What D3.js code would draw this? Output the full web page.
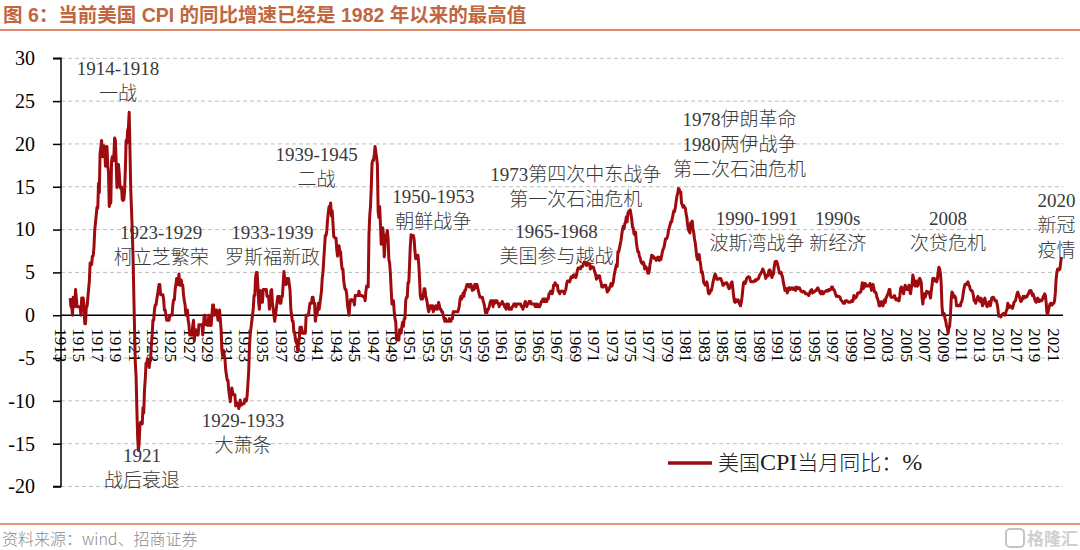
<!DOCTYPE html>
<html>
<head>
<meta charset="utf-8">
<script src="https://cdn.jsdelivr.net/npm/d3@7"></script>
<style>
  body { margin: 0; background: #fff; }
  svg text { font-family: "Liberation Serif", "Noto Sans CJK SC", serif; }
</style>
</head>
<body>
<div id="chart"></div>
<script>
// monthly CPI YoY (%), rows = years, first row starts Jan 1914
var startYear = 1914;
var cpi1910s = [
  2.0, 1.0, 1.0, 0.0, 2.1, 1.0, 1.0, 3.0, 2.0, 1.0, 1.0, 1.0,
  1.0, 1.0, 0.0, 2.0, 2.0, 2.0, 1.0, -1.0, -1.0, 1.0, 1.0, 2.0,
  3.0, 4.0, 6.1, 6.0, 5.9, 6.9, 6.9, 7.9, 9.9, 10.8, 11.7, 12.6,
  12.5, 15.4, 14.3, 18.9, 19.6, 20.4, 18.5, 19.3, 19.8, 19.5, 17.4, 18.1,
  19.7, 17.5, 16.7, 12.7, 13.3, 13.1, 18.0, 18.5, 18.0, 18.5, 20.7, 20.4,
  17.9, 14.9, 17.1, 17.6, 16.6, 15.0, 14.8, 15.0, 13.5, 13.4, 13.5, 14.5
];
var cpi1920s = [
  17.0, 20.4, 20.1, 21.6, 21.9, 23.7, 19.5, 14.8, 12.4, 9.9, 7.0, 2.6,
  -1.6, -5.6, -7.1, -10.8, -14.1, -15.8, -14.9, -12.8, -12.5, -12.7, -12.7, -10.8,
  -11.4, -8.7, -7.5, -5.6, -5.6, -5.1, -5.2, -6.1, -5.5, -5.0, -3.4, -2.3,
  -0.6, -0.6, 0.6, 1.2, 1.2, 1.8, 2.4, 3.0, 3.6, 3.6, 2.4, 2.4,
  2.4, 2.4, 1.8, 0.6, 0.6, 0.0, -0.6, -0.6, -0.6, -0.6, 0.0, 0.0,
  0.0, 0.0, 1.2, 1.8, 1.8, 3.0, 3.6, 4.3, 3.6, 3.6, 4.8, 3.5,
  3.5, 4.1, 3.5, 3.5, 2.3, 1.7, 1.2, 0.0, 0.6, 0.6, -0.6, -1.1,
  -2.3, -2.3, -2.3, -2.3, -1.2, -0.6, -3.0, -1.7, -1.7, -2.3, -2.3, -2.3,
  -1.1, -1.1, -1.1, -1.1, -1.1, -2.3, -1.1, 0.0, 0.0, -1.1, -1.1, -1.1,
  -1.2, 0.0, -0.6, -1.2, -1.2, 0.0, 1.2, 1.2, 0.0, 0.6, 0.6, 0.6
];
var cpi1930s = [
  0.0, -0.6, -0.6, 0.6, -0.6, -1.7, -4.1, -4.7, -4.1, -4.6, -5.1, -6.4,
  -7.0, -7.6, -7.6, -8.8, -9.4, -10.1, -9.0, -8.5, -9.0, -9.3, -9.3, -9.3,
  -10.6, -10.2, -10.3, -10.3, -10.9, -10.6, -9.9, -10.5, -10.4, -10.4, -10.3, -10.3,
  -9.8, -9.8, -10.0, -9.4, -8.0, -6.6, -3.7, -2.2, -1.5, -0.7, 0.0, 0.8,
  2.3, 2.3, 4.4, 5.0, 5.0, 3.4, 1.5, 0.7, 2.9, 2.2, 1.5, 1.5,
  3.0, 3.0, 3.0, 3.0, 3.0, 2.2, 2.2, 2.2, 0.7, 1.4, 2.9, 3.0,
  1.4, 0.7, 0.0, -0.7, 0.0, 0.7, 1.5, 2.2, 2.2, 2.2, 1.4, 1.4,
  2.2, 2.2, 3.6, 5.1, 4.3, 3.6, 3.6, 4.3, 4.3, 4.3, 3.6, 2.9,
  0.7, 0.0, -0.7, -0.7, -2.0, -2.0, -2.8, -2.8, -3.4, -4.1, -3.4, -2.8,
  -1.4, -1.4, -1.4, -2.1, -2.1, -2.1, -2.1, -2.1, 0.0, 0.0, 0.0, 0.0
];
var cpi1940s = [
  0.7, 1.4, 1.4, 1.4, 2.1, 2.1, 1.4, 1.4, -0.7, 0.0, 0.0, 0.7,
  1.4, 0.7, 1.4, 2.1, 2.8, 4.3, 5.0, 6.5, 7.9, 9.3, 9.3, 9.9,
  11.2, 12.0, 12.7, 12.6, 13.1, 11.6, 12.2, 10.8, 9.2, 9.1, 9.0, 9.0,
  7.6, 6.9, 7.5, 8.1, 7.4, 7.4, 6.1, 5.4, 5.4, 4.1, 3.4, 3.0,
  3.0, 2.4, 1.2, 0.6, 0.0, 1.2, 1.8, 1.8, 1.8, 1.7, 1.7, 1.2,
  2.3, 2.3, 2.3, 2.3, 2.3, 2.8, 2.3, 2.3, 2.3, 2.3, 2.2, 2.2,
  2.2, 1.7, 2.8, 3.4, 3.3, 3.3, 9.4, 11.6, 12.7, 14.9, 17.7, 18.1,
  18.1, 18.8, 19.7, 19.0, 18.4, 17.6, 12.1, 11.4, 12.7, 10.6, 8.3, 8.8,
  10.2, 9.3, 6.8, 8.3, 9.3, 9.4, 9.9, 8.9, 6.5, 6.1, 4.8, 3.0,
  1.3, 1.3, 1.7, 0.4, -0.4, -0.8, -2.9, -2.9, -2.4, -2.9, -1.7, -2.1
];
var cpi1950s = [
  -2.1, -1.3, -0.8, -1.3, -0.4, -0.4, 1.7, 2.1, 2.1, 3.8, 3.8, 5.9,
  8.1, 9.4, 9.3, 9.3, 9.3, 8.8, 7.5, 6.6, 7.0, 6.6, 7.0, 6.0,
  4.3, 2.3, 1.9, 2.3, 1.9, 2.3, 3.1, 3.1, 2.3, 1.9, 1.5, 0.8,
  0.4, 0.8, 1.1, 0.8, 1.1, 1.1, 0.4, 0.8, 0.7, 1.1, 0.7, 0.7,
  1.1, 1.5, 1.1, 0.7, 0.7, 0.4, 0.4, 0.0, -0.4, -0.7, -0.4, -0.7,
  -0.7, -0.7, -0.7, -0.4, -0.7, -0.7, -0.4, -0.4, 0.4, 0.4, 0.4, 0.4,
  0.4, 0.4, 0.4, 0.7, 1.1, 1.9, 2.2, 1.9, 2.2, 2.6, 2.2, 2.9,
  2.9, 3.3, 3.6, 3.6, 3.6, 3.3, 3.3, 3.6, 3.3, 2.9, 3.3, 3.0,
  3.6, 3.2, 3.6, 3.6, 3.2, 2.8, 2.4, 2.1, 2.1, 2.1, 2.1, 1.7,
  1.4, 1.0, 0.3, 0.3, 0.3, 0.7, 0.7, 1.0, 1.4, 1.7, 1.7, 1.7
];
var cpi1960s = [
  1.0, 1.7, 1.4, 1.7, 1.7, 1.7, 1.4, 1.4, 1.0, 1.3, 1.3, 1.3,
  1.6, 1.3, 1.3, 1.0, 0.9, 0.7, 1.3, 1.0, 1.3, 0.7, 0.7, 0.7,
  0.7, 1.0, 1.0, 1.3, 1.3, 1.3, 1.0, 1.3, 1.3, 1.3, 1.3, 1.3,
  1.3, 1.0, 1.0, 0.7, 1.0, 1.3, 1.6, 1.3, 1.0, 1.3, 1.3, 1.6,
  1.6, 1.6, 1.3, 1.3, 1.3, 1.3, 1.3, 1.0, 1.3, 1.0, 1.3, 1.0,
  1.0, 1.0, 1.3, 1.6, 1.6, 1.9, 1.6, 1.9, 1.6, 1.9, 1.6, 1.9,
  1.9, 2.5, 2.5, 2.8, 2.8, 2.5, 2.8, 3.5, 3.5, 3.8, 3.5, 3.5,
  3.5, 2.8, 2.8, 2.5, 2.8, 2.8, 2.8, 2.8, 2.8, 2.5, 2.8, 3.0,
  3.6, 4.0, 4.0, 4.0, 3.9, 4.2, 4.5, 4.4, 4.4, 4.7, 4.7, 4.7,
  4.4, 4.7, 5.2, 5.5, 5.5, 5.5, 5.4, 5.7, 5.7, 5.7, 6.0, 6.2
];
var cpi1970s = [
  6.2, 6.1, 5.8, 6.1, 6.0, 6.0, 6.0, 5.4, 5.7, 5.7, 5.6, 5.6,
  5.3, 5.0, 4.7, 4.2, 4.4, 4.6, 4.4, 4.6, 4.1, 3.8, 3.3, 3.3,
  3.3, 3.5, 3.5, 3.5, 3.2, 2.7, 2.9, 2.9, 3.2, 3.4, 3.7, 3.4,
  3.6, 3.9, 4.6, 5.1, 5.5, 5.9, 5.7, 7.4, 7.4, 7.8, 8.3, 8.7,
  9.4, 10.0, 10.4, 10.1, 10.7, 10.9, 11.5, 10.9, 11.9, 12.1, 12.2, 12.3,
  11.8, 11.2, 10.3, 10.2, 9.5, 9.4, 9.7, 8.6, 7.9, 7.4, 7.4, 6.9,
  6.7, 6.3, 6.1, 6.0, 6.2, 6.0, 5.4, 5.7, 5.5, 5.5, 4.9, 4.9,
  5.2, 6.0, 6.4, 7.0, 6.7, 6.9, 6.8, 6.6, 6.6, 6.4, 6.7, 6.7,
  6.8, 6.4, 6.6, 6.5, 6.9, 7.4, 7.7, 7.9, 8.3, 8.9, 8.9, 9.0,
  9.3, 9.9, 10.2, 10.5, 10.9, 10.9, 11.3, 11.8, 12.2, 12.1, 12.6, 13.3
];
var cpi1980s = [
  13.9, 14.2, 14.8, 14.7, 14.4, 14.4, 13.1, 12.9, 12.6, 12.8, 12.6, 12.5,
  11.8, 11.4, 10.5, 10.0, 9.8, 9.6, 10.8, 10.8, 11.0, 10.1, 9.6, 8.9,
  8.4, 7.6, 6.8, 6.5, 6.7, 7.1, 6.4, 5.9, 5.0, 5.1, 4.6, 3.8,
  3.7, 3.5, 3.6, 3.9, 3.5, 2.6, 2.5, 2.6, 2.9, 2.9, 3.3, 3.8,
  4.2, 4.6, 4.8, 4.6, 4.2, 4.2, 4.2, 4.3, 4.3, 4.3, 4.1, 3.9,
  3.5, 3.5, 3.7, 3.7, 3.8, 3.8, 3.6, 3.3, 3.1, 3.2, 3.5, 3.8,
  3.9, 3.1, 2.3, 1.6, 1.5, 1.8, 1.6, 1.6, 1.8, 1.5, 1.3, 1.1,
  1.5, 2.1, 3.0, 3.8, 3.9, 3.7, 3.9, 4.3, 4.4, 4.5, 4.5, 4.4,
  4.0, 3.9, 3.9, 3.9, 3.9, 4.0, 4.1, 4.0, 4.2, 4.2, 4.2, 4.4,
  4.7, 4.8, 5.0, 5.1, 5.4, 5.2, 5.0, 4.7, 4.3, 4.5, 4.7, 4.6
];
var cpi1990s = [
  5.2, 5.3, 5.2, 4.7, 4.4, 4.7, 4.8, 5.6, 6.2, 6.3, 6.3, 6.1,
  5.7, 5.3, 4.9, 4.9, 5.0, 4.7, 4.4, 3.8, 3.4, 2.9, 3.0, 3.1,
  2.6, 2.8, 3.2, 3.2, 3.0, 3.1, 3.2, 3.1, 3.0, 3.2, 3.0, 2.9,
  3.3, 3.2, 3.1, 3.2, 3.2, 3.0, 2.8, 2.8, 2.7, 2.8, 2.7, 2.7,
  2.5, 2.5, 2.5, 2.4, 2.3, 2.5, 2.8, 2.9, 3.0, 2.6, 2.7, 2.7,
  2.8, 2.9, 2.9, 3.1, 3.2, 3.0, 2.8, 2.6, 2.5, 2.8, 2.6, 2.5,
  2.7, 2.7, 2.8, 2.9, 2.9, 2.8, 3.0, 2.9, 3.0, 3.0, 3.3, 3.3,
  3.0, 3.0, 2.8, 2.5, 2.2, 2.3, 2.2, 2.2, 2.2, 2.1, 1.8, 1.7,
  1.6, 1.4, 1.4, 1.4, 1.7, 1.7, 1.7, 1.6, 1.5, 1.5, 1.5, 1.6,
  1.7, 1.6, 1.7, 2.3, 2.1, 2.0, 2.1, 2.3, 2.6, 2.6, 2.6, 2.7
];
var cpi2000s = [
  2.7, 3.2, 3.8, 3.1, 3.2, 3.7, 3.7, 3.4, 3.5, 3.4, 3.4, 3.4,
  3.7, 3.5, 2.9, 3.3, 3.6, 3.2, 2.7, 2.7, 2.6, 2.1, 1.9, 1.6,
  1.1, 1.1, 1.5, 1.6, 1.2, 1.1, 1.5, 1.8, 1.5, 2.0, 2.2, 2.4,
  2.6, 3.0, 3.0, 2.2, 2.1, 2.1, 2.1, 2.2, 2.3, 2.0, 1.8, 1.9,
  1.9, 1.7, 1.7, 2.3, 3.1, 3.3, 3.0, 2.7, 2.5, 3.2, 3.5, 3.3,
  3.0, 3.0, 3.1, 3.5, 2.8, 2.5, 3.2, 3.6, 4.7, 4.3, 3.5, 3.4,
  4.0, 3.6, 3.4, 3.5, 4.2, 4.3, 4.1, 3.8, 2.1, 1.3, 2.0, 2.5,
  2.1, 2.4, 2.8, 2.6, 2.7, 2.7, 2.4, 2.0, 2.8, 3.5, 4.3, 4.1,
  4.3, 4.0, 4.0, 3.9, 4.2, 5.0, 5.6, 5.4, 4.9, 3.7, 1.1, 0.1,
  0.0, 0.2, -0.4, -0.7, -1.3, -1.4, -2.1, -1.5, -1.3, -0.2, 1.8, 2.7
];
var cpi2010s = [
  2.6, 2.1, 2.3, 2.2, 2.0, 1.1, 1.2, 1.1, 1.1, 1.2, 1.1, 1.5,
  1.6, 2.1, 2.7, 3.2, 3.6, 3.6, 3.6, 3.8, 3.9, 3.5, 3.4, 3.0,
  2.9, 2.9, 2.7, 2.3, 1.7, 1.7, 1.4, 1.7, 2.0, 2.2, 1.8, 1.7,
  1.6, 2.0, 1.5, 1.1, 1.4, 1.8, 2.0, 1.5, 1.2, 1.0, 1.2, 1.5,
  1.6, 1.1, 1.5, 2.0, 2.1, 2.1, 2.0, 1.7, 1.7, 1.7, 1.3, 0.8,
  -0.1, 0.0, -0.1, -0.2, 0.0, 0.1, 0.2, 0.2, 0.0, 0.2, 0.5, 0.7,
  1.4, 1.0, 0.9, 1.1, 1.0, 1.0, 0.8, 1.1, 1.5, 1.6, 1.7, 2.1,
  2.5, 2.7, 2.4, 2.2, 1.9, 1.6, 1.7, 1.9, 2.2, 2.0, 2.2, 2.1,
  2.1, 2.2, 2.4, 2.5, 2.8, 2.9, 2.9, 2.7, 2.3, 2.5, 2.2, 1.9,
  1.6, 1.5, 1.9, 2.0, 1.8, 1.6, 1.8, 1.7, 1.7, 1.8, 2.1, 2.3
];
var cpi2020s = [
  2.5, 2.3, 1.5, 0.3, 0.1, 0.6, 1.0, 1.3, 1.4, 1.2, 1.2, 1.4,
  1.4, 1.7, 2.6, 4.2, 5.0, 5.4, 5.4, 5.3, 5.4, 6.2, 6.8
];

var yTicks = [30, 25, 20, 15, 10, 5, 0, -5, -10, -15, -20];
var xTickYears = d3.range(1913, 2022, 2);

// event notes: centre placed at this year on the x scale, lines of text
var noteYears = [1919.2, 1921.8, 1923.9, 1936.0, 1932.8, 1940.8, 1953.5, 1969.0, 1966.9, 1986.8, 1988.7, 1997.5, 2009.5, 2021.3];
var noteLines = [
  ["1914-1918", "一战"],
  ["1921", "战后衰退"],
  ["1923-1929", "柯立芝繁荣"],
  ["1933-1939", "罗斯福新政"],
  ["1929-1933", "大萧条"],
  ["1939-1945", "二战"],
  ["1950-1953", "朝鲜战争"],
  ["1973第四次中东战争", "第一次石油危机"],
  ["1965-1968", "美国参与越战"],
  ["1978伊朗革命", "1980两伊战争", "第二次石油危机"],
  ["1990-1991", "波斯湾战争"],
  ["1990s", "新经济"],
  ["2008", "次贷危机"],
  ["2020", "新冠", "疫情"]
];
var noteBaselines = [75, 462, 239, 239, 427, 161, 203, 181, 238, 126, 225, 225, 225, 207];

var titleText = "图 6：当前美国 CPI 的同比增速已经是 1982 年以来的最高值";
var legendParts = ["美国", "CPI", "当月同比：", "%"];
var sourceText = "资料来源：wind、招商证券";

// build the series
var series = [].concat(cpi1910s, cpi1920s, cpi1930s, cpi1940s, cpi1950s,
  cpi1960s, cpi1970s, cpi1980s, cpi1990s, cpi2000s, cpi2010s, cpi2020s)
  .map(function(v, i) { return {t: startYear + i / 12, v: v}; });

var width = 1080, height = 550;
var svg = d3.select("#chart").append("svg")
  .attr("width", width).attr("height", height);

var x = d3.scaleLinear().domain([1913, 2022]).range([61, 1063]);
var y = d3.scaleLinear().domain([-20, 30]).range([486.5, 58.3]);

// title + rule
svg.append("text")
  .attr("x", 3).attr("y", 22)
  .style("font-family", "'Liberation Sans', 'Noto Sans CJK SC', sans-serif")
  .style("font-size", "19.5px").style("font-weight", "bold")
  .attr("fill", "#C0673F")
  .text(titleText);
svg.append("line")
  .attr("x1", 0).attr("x2", width).attr("y1", 30).attr("y2", 30)
  .attr("stroke", "#DE8B6C").attr("stroke-width", 2);

// grid
svg.append("g").selectAll("line")
  .data(yTicks.filter(function(d) { return d !== 0; }))
  .enter().append("line")
    .attr("x1", x(1913)).attr("x2", 1063)
    .attr("y1", function(d) { return y(d); })
    .attr("y2", function(d) { return y(d); })
    .attr("stroke", "#BDBDBD").attr("stroke-width", 1)
    .attr("stroke-dasharray", "4,3");

// y axis
var yAxis = d3.axisLeft(y).tickValues(yTicks).tickSize(8).tickPadding(18)
  .tickFormat(function(d) { return d < 0 ? "-" + Math.abs(d) : d; });
var gy = svg.append("g").attr("transform", "translate(61,0)").call(yAxis);
gy.select(".domain").attr("stroke", "#000").attr("stroke-width", 1.5)
  .attr("d", "M-8," + y(30) + "H0V" + y(-20) + "H-8");
gy.selectAll(".tick line").attr("stroke", "#000").attr("stroke-width", 1.5);
gy.selectAll(".tick text")
  .style("font-family", "'Liberation Serif', serif")
  .style("font-size", "20px").attr("fill", "#000");

// zero line
svg.append("line")
  .attr("x1", x(1913)).attr("x2", 1063)
  .attr("y1", y(0)).attr("y2", y(0))
  .attr("stroke", "#000").attr("stroke-width", 1.5);

// x labels, rotated
svg.append("g").selectAll("text")
  .data(xTickYears)
  .enter().append("text")
    .attr("transform", function(d) { return "translate(" + x(d) + "," + (y(0) + 13) + ") rotate(90)"; })
    .attr("dy", "0.35em")
    .style("font-family", "'Liberation Serif', serif")
    .style("font-size", "17px").attr("fill", "#000")
    .text(function(d) { return d; });

// line
var line = d3.line()
  .x(function(d) { return x(d.t); })
  .y(function(d) { return y(d.v); });
svg.append("path")
  .datum(series)
  .attr("fill", "none")
  .attr("stroke", "#9E0A0E")
  .attr("stroke-width", 3)
  .attr("stroke-linejoin", "round")
  .attr("d", line);

// notes
var notes = svg.append("g");
noteLines.forEach(function(lines, i) {
  var t = notes.append("text")
    .attr("x", x(noteYears[i]))
    .attr("y", noteBaselines[i])
    .attr("text-anchor", "middle")
    .attr("fill", "#3a3a3a")
    .style("font-size", "19px").style("font-weight", "300");
  lines.forEach(function(s, k) {
    t.append("tspan")
      .attr("x", x(noteYears[i]))
      .attr("dy", k === 0 ? 0 : 25)
      .text(s);
  });
});

// legend
var lg = svg.append("g").attr("transform", "translate(668,463)");
lg.append("line").attr("x1", 0).attr("x2", 44)
  .attr("stroke", "#9E0A0E").attr("stroke-width", 3.5);
var lt = lg.append("text").attr("x", 50).attr("y", 7)
  .style("font-weight", "300").attr("fill", "#222");
legendParts.forEach(function(s, k) {
  lt.append("tspan")
    .style("font-size", k % 2 ? "24px" : "21px")
    .text(s);
});

// footer
svg.append("line")
  .attr("x1", 0).attr("x2", width).attr("y1", 524).attr("y2", 524)
  .attr("stroke", "#E07352").attr("stroke-width", 1.5);
svg.append("text")
  .attr("x", 2).attr("y", 545)
  .style("font-family", "'Noto Sans CJK SC', sans-serif")
  .style("font-size", "16px").style("font-weight", "300").attr("fill", "#8c8c8c")
  .text(sourceText);

// watermark
var wm = svg.append("g").attr("transform", "translate(1006,529)");
wm.append("rect").attr("width", 18).attr("height", 18).attr("rx", 4)
  .attr("fill", "none").attr("stroke", "#c4c4c4").attr("stroke-width", 2);
wm.append("text").attr("x", 21).attr("y", 16)
  .style("font-family", "'Noto Sans CJK SC', sans-serif")
  .style("font-size", "17px").style("font-weight", "bold")
  .attr("fill", "#d0d0d0").text("格隆汇");
</script>
</body>
</html>
